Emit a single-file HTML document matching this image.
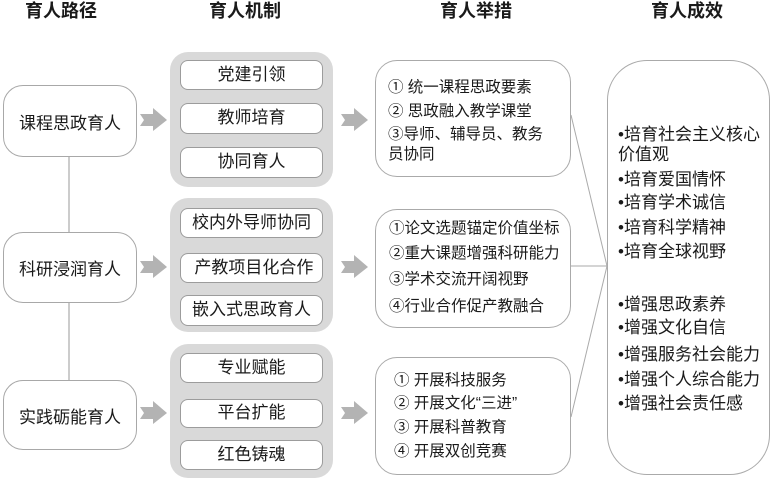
<!DOCTYPE html>
<html><head><meta charset="utf-8"><style>
*{margin:0;padding:0;box-sizing:border-box}
body{width:771px;height:498px;background:#fff;position:relative;overflow:hidden;font-family:"Liberation Sans","Noto Sans CJK SC",sans-serif;color:#1a1a1a}
.a{position:absolute}
.h{position:absolute;top:0;font-size:18px;font-weight:bold;line-height:22px;text-align:center;width:120px}
.p{position:absolute;left:3px;width:134px;border:1.5px solid #a8a8a8;border-radius:20px;background:#fff;font-size:17px;display:flex;align-items:center;justify-content:center}
.g{position:absolute;left:170px;width:163px;background:#d9d9d9;border-radius:18px}
.i{position:absolute;left:180px;width:143px;height:30px;border:1.5px solid #9c9c9c;border-radius:8px;background:#fff;font-size:17px;line-height:27px;text-align:center;white-space:nowrap}
.c{position:absolute;left:375px;width:196px;border:1.5px solid #aaa;border-radius:22px;background:#fff}
.t{position:absolute;font-size:15.5px;line-height:20px;white-space:nowrap}
.r{position:absolute;left:618px;font-size:17px;line-height:22px;white-space:nowrap}
</style></head><body>
<div class="h" style="left:1px">育人路径</div>
<div class="h" style="left:185px">育人机制</div>
<div class="h" style="left:416px">育人举措</div>
<div class="h" style="left:627px">育人成效</div>

<svg class="a" style="left:0;top:0" width="771" height="498">
<line x1="69" y1="157" x2="69" y2="232" stroke="#aaa" stroke-width="1.2"/>
<line x1="69" y1="303" x2="69" y2="380" stroke="#aaa" stroke-width="1.2"/>
<line x1="571" y1="115" x2="607" y2="266" stroke="#aaa" stroke-width="1"/>
<line x1="571" y1="266" x2="607" y2="266" stroke="#aaa" stroke-width="1"/>
<line x1="571" y1="417" x2="607" y2="266" stroke="#aaa" stroke-width="1"/>
<g fill="#b3b3b3">
<polygon points="140,114 153,114 153,108 167,120 153,131 153,126 140,126 144,120"/>
<polygon points="140,261 153,261 153,255 167,267 153,278 153,273 140,273 144,267"/>
<polygon points="140,407 153,407 153,401 167,413 153,424 153,419 140,419 144,413"/>
<polygon points="341,114 354,114 354,108 368,120 354,131 354,126 341,126 345,120"/>
<polygon points="341,261 354,261 354,255 368,267 354,278 354,273 341,273 345,267"/>
<polygon points="341,407 354,407 354,401 368,413 354,424 354,419 341,419 345,413"/>
</g>
</svg>

<div class="p" style="top:85px;height:72px">课程思政育人</div>
<div class="p" style="top:232px;height:71px">科研浸润育人</div>
<div class="p" style="top:380px;height:70px">实践砺能育人</div>

<div class="g" style="top:52px;height:135px"></div>
<div class="g" style="top:198px;height:134px"></div>
<div class="g" style="top:344px;height:134px"></div>

<div class="i" style="top:60px">党建引领</div>
<div class="i" style="top:103px;height:31px">教师培育</div>
<div class="i" style="top:147px;height:31px">协同育人</div>
<div class="i" style="top:208px">校内外导师协同</div>
<div class="i" style="top:253px">&nbsp;产教项目化合作</div>
<div class="i" style="top:295px;height:31px">嵌入式思政育人</div>
<div class="i" style="top:353px">专业赋能</div>
<div class="i" style="top:399px;height:29px;line-height:26px">平台扩能</div>
<div class="i" style="top:440px">红色铸魂</div>

<div class="c" style="top:60px;height:117px"></div>
<div class="c" style="top:209px;height:119px"></div>
<div class="c" style="top:357px;height:118px"></div>

<div class="t" style="left:388px;top:78px">① 统一课程思政要素</div>
<div class="t" style="left:388px;top:102px">② 思政融入教学课堂</div>
<div class="t" style="left:388px;top:125px">③导师、辅导员、教务</div>
<div class="t" style="left:388px;top:145px">员协同</div>

<div class="t" style="left:389px;top:219px">①论文选题锚定价值坐标</div>
<div class="t" style="left:389px;top:244px">②重大课题增强科研能力</div>
<div class="t" style="left:389px;top:270px">③学术交流开阔视野</div>
<div class="t" style="left:389px;top:297px">④行业合作促产教融合</div>

<div class="t" style="left:394px;top:371px">① 开展科技服务</div>
<div class="t" style="left:394px;top:394px">② 开展文化“三进”</div>
<div class="t" style="left:394px;top:418px">③ 开展科普教育</div>
<div class="t" style="left:394px;top:442px">④ 开展双创竞赛</div>

<div class="a" style="left:607px;top:60px;width:163px;height:415px;border:1.5px solid #aaa;border-radius:40px;background:#fff"></div>
<div class="r" style="top:124px">•培育社会主义核心</div>
<div class="r" style="top:144px">价值观</div>
<div class="r" style="top:169px">•培育爱国情怀</div>
<div class="r" style="top:192px">•培育学术诚信</div>
<div class="r" style="top:217px">•培育科学精神</div>
<div class="r" style="top:241px">•培育全球视野</div>
<div class="r" style="top:294px">•增强思政素养</div>
<div class="r" style="top:317px">•增强文化自信</div>
<div class="r" style="top:344px">•增强服务社会能力</div>
<div class="r" style="top:369px">•增强个人综合能力</div>
<div class="r" style="top:393px">•增强社会责任感</div>
</body></html>
